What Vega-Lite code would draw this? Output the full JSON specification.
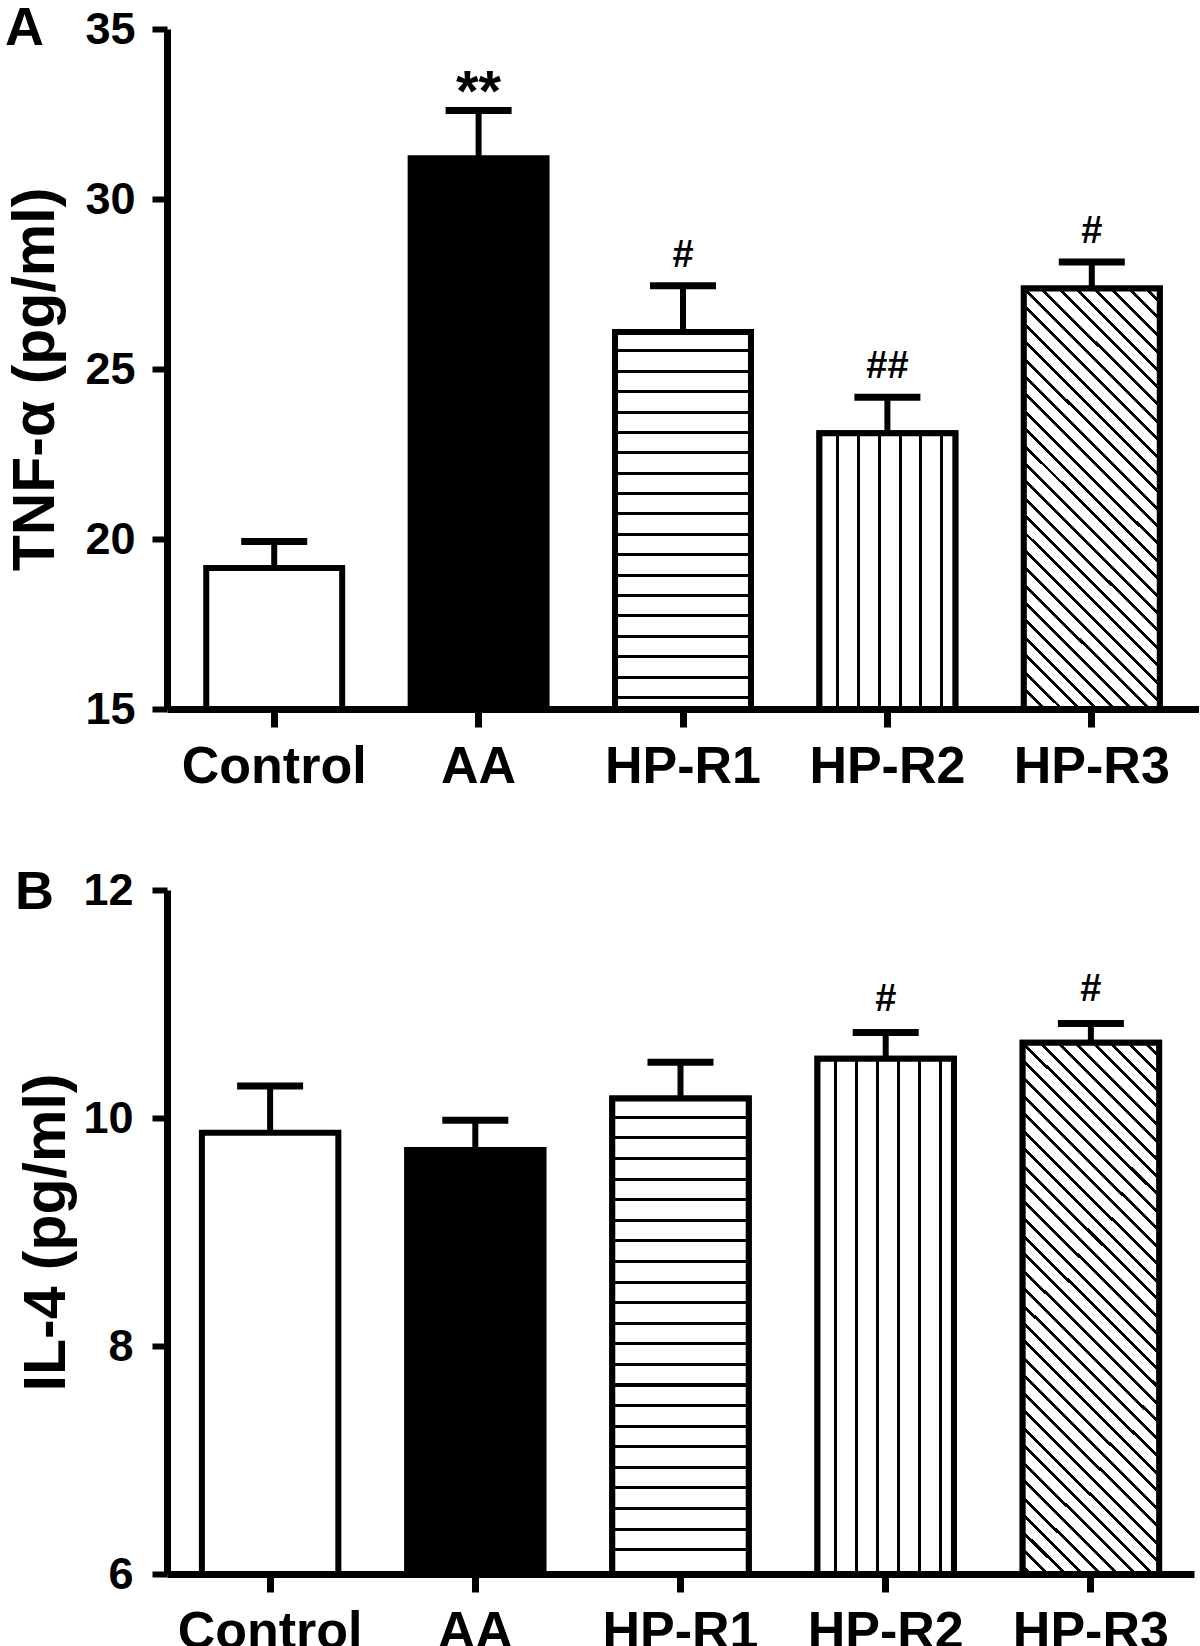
{
 "$schema": "https://vega.github.io/schema/vega-lite/v6.json",
 "padding": {"left": 5, "top": 2, "right": 0, "bottom": 0},
 "background": "white",
 "config": {
  "view": {"stroke": null},
  "font": "Liberation Sans",
  "axis": {"domainColor": "black", "tickColor": "black", "labelColor": "black", "titleColor": "black", "labelFont": "Liberation Sans", "titleFont": "Liberation Sans", "labelFontWeight": "bold", "titleFontWeight": "bold", "grid": false, "zindex": 1},
  "axisX": {"labelAngle": 0, "labelFontSize": 52, "labelPadding": 14, "labelLimit": 400, "tickSize": 18, "tickWidth": 7, "domainWidth": 7},
  "axisY": {"labelFontSize": 45, "labelPadding": 17, "tickSize": 15, "tickWidth": 6, "domainWidth": 7, "titleFontSize": 59, "titlePadding": 19},
  "title": {"font": "Liberation Sans", "fontWeight": "bold", "fontSize": 54, "color": "black", "anchor": "start", "frame": "group", "offset": 0, "baseline": "alphabetic"}
 },
 "datasets": {
  "tnf": [
   {"group": "Control", "mean": 19.15, "upper": 19.93, "sig": ""},
   {"group": "AA", "mean": 31.2, "upper": 32.6, "sig": "**"},
   {"group": "HP-R1", "mean": 26.09, "upper": 27.45, "sig": "#"},
   {"group": "HP-R2", "mean": 23.11, "upper": 24.17, "sig": "##"},
   {"group": "HP-R3", "mean": 27.37, "upper": 28.15, "sig": "#"}
  ],
  "il4": [
   {"group": "Control", "mean": 9.87, "upper": 10.28, "sig": ""},
   {"group": "AA", "mean": 9.72, "upper": 9.98, "sig": ""},
   {"group": "HP-R1", "mean": 10.17, "upper": 10.49, "sig": ""},
   {"group": "HP-R2", "mean": 10.52, "upper": 10.75, "sig": "#"},
   {"group": "HP-R3", "mean": 10.66, "upper": 10.83, "sig": "#"}
  ]
 },
 "columns": 1,
 "align": "none",
 "spacing": 74,
 "concat": [
  {
   "width": 1032, "height": 680,
   "title": {"text": "A", "dx": -162, "dy": 53},
   "data": {"name": "tnf"},
   "encoding": {"x": {"field": "group", "type": "nominal", "scale": {"domain": ["Control", "AA", "HP-R1", "HP-R2", "HP-R3"], "paddingInner": 0.335, "paddingOuter": 0.192}, "axis": {"title": null}}},
   "layer": [
    {"mark": {"type": "rule", "color": "black", "strokeWidth": 6},
     "encoding": {"y": {"field": "mean", "type": "quantitative", "scale": {"domain": [15, 35], "nice": false, "zero": false}, "axis": {"title": "TNF-α (pg/ml)", "values": [15, 20, 25, 30, 35], "titleY": 350}}, "y2": {"field": "upper"}}},
    {"mark": {"type": "tick", "orient": "horizontal", "color": "black", "size": 66, "thickness": 7, "opacity": 1},
     "encoding": {"y": {"field": "upper", "type": "quantitative", "scale": {"domain": [15, 35], "nice": false, "zero": false}, "axis": {"title": "TNF-α (pg/ml)", "values": [15, 20, 25, 30, 35], "titleY": 350}}}},
    {"mark": {"type": "bar", "stroke": "black", "strokeWidth": 6, "strokeJoin": "miter"},
     "encoding": {"y": {"field": "mean", "type": "quantitative", "scale": {"domain": [15, 35], "nice": false, "zero": false}, "axis": {"title": "TNF-α (pg/ml)", "values": [15, 20, 25, 30, 35], "titleY": 350}}, "y2": {"datum": 15},
      "fill": {"field": "group", "type": "nominal", "scale": {"domain": ["Control", "AA", "HP-R1", "HP-R2", "HP-R3"], "range": ["#ffffff", "#000000", "#ffffff", "#ffffff", "#ffffff"]}, "legend": null}}},
    {"transform": [{"filter": "datum.group === 'HP-R1'"}],
     "mark": {"type": "bar", "stroke": "black", "strokeWidth": 6, "strokeJoin": "miter",
      "fill": {"gradient": "linear", "x1": 0, "y1": 0, "x2": 0, "y2": 1, "stops": [
       {"offset": 0, "color": "#fff"},
       {"offset": 0.0464, "color": "#fff"}, {"offset": 0.0464, "color": "#000"}, {"offset": 0.0543, "color": "#000"}, {"offset": 0.0543, "color": "#fff"},
       {"offset": 0.1004, "color": "#fff"}, {"offset": 0.1004, "color": "#000"}, {"offset": 0.1084, "color": "#000"}, {"offset": 0.1084, "color": "#fff"},
       {"offset": 0.1545, "color": "#fff"}, {"offset": 0.1545, "color": "#000"}, {"offset": 0.1624, "color": "#000"}, {"offset": 0.1624, "color": "#fff"},
       {"offset": 0.2085, "color": "#fff"}, {"offset": 0.2085, "color": "#000"}, {"offset": 0.2165, "color": "#000"}, {"offset": 0.2165, "color": "#fff"},
       {"offset": 0.2626, "color": "#fff"}, {"offset": 0.2626, "color": "#000"}, {"offset": 0.2705, "color": "#000"}, {"offset": 0.2705, "color": "#fff"},
       {"offset": 0.3166, "color": "#fff"}, {"offset": 0.3166, "color": "#000"}, {"offset": 0.3246, "color": "#000"}, {"offset": 0.3246, "color": "#fff"},
       {"offset": 0.3707, "color": "#fff"}, {"offset": 0.3707, "color": "#000"}, {"offset": 0.3786, "color": "#000"}, {"offset": 0.3786, "color": "#fff"},
       {"offset": 0.4247, "color": "#fff"}, {"offset": 0.4247, "color": "#000"}, {"offset": 0.4327, "color": "#000"}, {"offset": 0.4327, "color": "#fff"},
       {"offset": 0.4788, "color": "#fff"}, {"offset": 0.4788, "color": "#000"}, {"offset": 0.4868, "color": "#000"}, {"offset": 0.4868, "color": "#fff"},
       {"offset": 0.5329, "color": "#fff"}, {"offset": 0.5329, "color": "#000"}, {"offset": 0.5408, "color": "#000"}, {"offset": 0.5408, "color": "#fff"},
       {"offset": 0.5869, "color": "#fff"}, {"offset": 0.5869, "color": "#000"}, {"offset": 0.5949, "color": "#000"}, {"offset": 0.5949, "color": "#fff"},
       {"offset": 0.6410, "color": "#fff"}, {"offset": 0.6410, "color": "#000"}, {"offset": 0.6489, "color": "#000"}, {"offset": 0.6489, "color": "#fff"},
       {"offset": 0.6950, "color": "#fff"}, {"offset": 0.6950, "color": "#000"}, {"offset": 0.7030, "color": "#000"}, {"offset": 0.7030, "color": "#fff"},
       {"offset": 0.7491, "color": "#fff"}, {"offset": 0.7491, "color": "#000"}, {"offset": 0.7570, "color": "#000"}, {"offset": 0.7570, "color": "#fff"},
       {"offset": 0.8031, "color": "#fff"}, {"offset": 0.8031, "color": "#000"}, {"offset": 0.8111, "color": "#000"}, {"offset": 0.8111, "color": "#fff"},
       {"offset": 0.8572, "color": "#fff"}, {"offset": 0.8572, "color": "#000"}, {"offset": 0.8651, "color": "#000"}, {"offset": 0.8651, "color": "#fff"},
       {"offset": 0.9112, "color": "#fff"}, {"offset": 0.9112, "color": "#000"}, {"offset": 0.9192, "color": "#000"}, {"offset": 0.9192, "color": "#fff"},
       {"offset": 0.9653, "color": "#fff"}, {"offset": 0.9653, "color": "#000"}, {"offset": 0.9732, "color": "#000"}, {"offset": 0.9732, "color": "#fff"},
       {"offset": 1, "color": "#fff"}]}},
     "encoding": {"y": {"field": "mean", "type": "quantitative", "scale": {"domain": [15, 35], "nice": false, "zero": false}, "axis": {"title": "TNF-α (pg/ml)", "values": [15, 20, 25, 30, 35], "titleY": 350}}, "y2": {"datum": 15}}},
    {"transform": [{"filter": "datum.group === 'HP-R2'"}],
     "mark": {"type": "bar", "stroke": "black", "strokeWidth": 6, "strokeJoin": "miter",
      "fill": {"gradient": "linear", "x1": 0, "y1": 0, "x2": 1, "y2": 0, "stops": [
       {"offset": 0, "color": "#fff"},
       {"offset": 0.1218, "color": "#fff"}, {"offset": 0.1218, "color": "#000"}, {"offset": 0.1439, "color": "#000"}, {"offset": 0.1439, "color": "#fff"},
       {"offset": 0.2753, "color": "#fff"}, {"offset": 0.2753, "color": "#000"}, {"offset": 0.2974, "color": "#000"}, {"offset": 0.2974, "color": "#fff"},
       {"offset": 0.4288, "color": "#fff"}, {"offset": 0.4288, "color": "#000"}, {"offset": 0.4509, "color": "#000"}, {"offset": 0.4509, "color": "#fff"},
       {"offset": 0.5823, "color": "#fff"}, {"offset": 0.5823, "color": "#000"}, {"offset": 0.6044, "color": "#000"}, {"offset": 0.6044, "color": "#fff"},
       {"offset": 0.7358, "color": "#fff"}, {"offset": 0.7358, "color": "#000"}, {"offset": 0.7579, "color": "#000"}, {"offset": 0.7579, "color": "#fff"},
       {"offset": 0.8893, "color": "#fff"}, {"offset": 0.8893, "color": "#000"}, {"offset": 0.9114, "color": "#000"}, {"offset": 0.9114, "color": "#fff"},
       {"offset": 1, "color": "#fff"}]}},
     "encoding": {"y": {"field": "mean", "type": "quantitative", "scale": {"domain": [15, 35], "nice": false, "zero": false}, "axis": {"title": "TNF-α (pg/ml)", "values": [15, 20, 25, 30, 35], "titleY": 350}}, "y2": {"datum": 15}}},
    {"transform": [{"filter": "datum.group === 'HP-R3'"}],
     "mark": {"type": "bar", "stroke": "black", "strokeWidth": 6, "strokeJoin": "miter",
      "fill": {"gradient": "linear", "x1": 0, "y1": 1, "x2": 0.3862, "y2": -0.1979, "stops": [
       {"offset": 0, "color": "#fff"},
       {"offset": 0.0023, "color": "#fff"}, {"offset": 0.0023, "color": "#000"}, {"offset": 0.0095, "color": "#000"}, {"offset": 0.0095, "color": "#fff"},
       {"offset": 0.0336, "color": "#fff"}, {"offset": 0.0336, "color": "#000"}, {"offset": 0.0408, "color": "#000"}, {"offset": 0.0408, "color": "#fff"},
       {"offset": 0.0649, "color": "#fff"}, {"offset": 0.0649, "color": "#000"}, {"offset": 0.0720, "color": "#000"}, {"offset": 0.0720, "color": "#fff"},
       {"offset": 0.0961, "color": "#fff"}, {"offset": 0.0961, "color": "#000"}, {"offset": 0.1033, "color": "#000"}, {"offset": 0.1033, "color": "#fff"},
       {"offset": 0.1274, "color": "#fff"}, {"offset": 0.1274, "color": "#000"}, {"offset": 0.1346, "color": "#000"}, {"offset": 0.1346, "color": "#fff"},
       {"offset": 0.1586, "color": "#fff"}, {"offset": 0.1586, "color": "#000"}, {"offset": 0.1658, "color": "#000"}, {"offset": 0.1658, "color": "#fff"},
       {"offset": 0.1899, "color": "#fff"}, {"offset": 0.1899, "color": "#000"}, {"offset": 0.1971, "color": "#000"}, {"offset": 0.1971, "color": "#fff"},
       {"offset": 0.2212, "color": "#fff"}, {"offset": 0.2212, "color": "#000"}, {"offset": 0.2284, "color": "#000"}, {"offset": 0.2284, "color": "#fff"},
       {"offset": 0.2524, "color": "#fff"}, {"offset": 0.2524, "color": "#000"}, {"offset": 0.2596, "color": "#000"}, {"offset": 0.2596, "color": "#fff"},
       {"offset": 0.2837, "color": "#fff"}, {"offset": 0.2837, "color": "#000"}, {"offset": 0.2909, "color": "#000"}, {"offset": 0.2909, "color": "#fff"},
       {"offset": 0.3150, "color": "#fff"}, {"offset": 0.3150, "color": "#000"}, {"offset": 0.3221, "color": "#000"}, {"offset": 0.3221, "color": "#fff"},
       {"offset": 0.3462, "color": "#fff"}, {"offset": 0.3462, "color": "#000"}, {"offset": 0.3534, "color": "#000"}, {"offset": 0.3534, "color": "#fff"},
       {"offset": 0.3775, "color": "#fff"}, {"offset": 0.3775, "color": "#000"}, {"offset": 0.3847, "color": "#000"}, {"offset": 0.3847, "color": "#fff"},
       {"offset": 0.4087, "color": "#fff"}, {"offset": 0.4087, "color": "#000"}, {"offset": 0.4159, "color": "#000"}, {"offset": 0.4159, "color": "#fff"},
       {"offset": 0.4400, "color": "#fff"}, {"offset": 0.4400, "color": "#000"}, {"offset": 0.4472, "color": "#000"}, {"offset": 0.4472, "color": "#fff"},
       {"offset": 0.4713, "color": "#fff"}, {"offset": 0.4713, "color": "#000"}, {"offset": 0.4784, "color": "#000"}, {"offset": 0.4784, "color": "#fff"},
       {"offset": 0.5025, "color": "#fff"}, {"offset": 0.5025, "color": "#000"}, {"offset": 0.5097, "color": "#000"}, {"offset": 0.5097, "color": "#fff"},
       {"offset": 0.5338, "color": "#fff"}, {"offset": 0.5338, "color": "#000"}, {"offset": 0.5410, "color": "#000"}, {"offset": 0.5410, "color": "#fff"},
       {"offset": 0.5650, "color": "#fff"}, {"offset": 0.5650, "color": "#000"}, {"offset": 0.5722, "color": "#000"}, {"offset": 0.5722, "color": "#fff"},
       {"offset": 0.5963, "color": "#fff"}, {"offset": 0.5963, "color": "#000"}, {"offset": 0.6035, "color": "#000"}, {"offset": 0.6035, "color": "#fff"},
       {"offset": 0.6276, "color": "#fff"}, {"offset": 0.6276, "color": "#000"}, {"offset": 0.6348, "color": "#000"}, {"offset": 0.6348, "color": "#fff"},
       {"offset": 0.6588, "color": "#fff"}, {"offset": 0.6588, "color": "#000"}, {"offset": 0.6660, "color": "#000"}, {"offset": 0.6660, "color": "#fff"},
       {"offset": 0.6901, "color": "#fff"}, {"offset": 0.6901, "color": "#000"}, {"offset": 0.6973, "color": "#000"}, {"offset": 0.6973, "color": "#fff"},
       {"offset": 0.7213, "color": "#fff"}, {"offset": 0.7213, "color": "#000"}, {"offset": 0.7285, "color": "#000"}, {"offset": 0.7285, "color": "#fff"},
       {"offset": 0.7526, "color": "#fff"}, {"offset": 0.7526, "color": "#000"}, {"offset": 0.7598, "color": "#000"}, {"offset": 0.7598, "color": "#fff"},
       {"offset": 0.7839, "color": "#fff"}, {"offset": 0.7839, "color": "#000"}, {"offset": 0.7911, "color": "#000"}, {"offset": 0.7911, "color": "#fff"},
       {"offset": 0.8151, "color": "#fff"}, {"offset": 0.8151, "color": "#000"}, {"offset": 0.8223, "color": "#000"}, {"offset": 0.8223, "color": "#fff"},
       {"offset": 0.8464, "color": "#fff"}, {"offset": 0.8464, "color": "#000"}, {"offset": 0.8536, "color": "#000"}, {"offset": 0.8536, "color": "#fff"},
       {"offset": 0.8777, "color": "#fff"}, {"offset": 0.8777, "color": "#000"}, {"offset": 0.8848, "color": "#000"}, {"offset": 0.8848, "color": "#fff"},
       {"offset": 0.9089, "color": "#fff"}, {"offset": 0.9089, "color": "#000"}, {"offset": 0.9161, "color": "#000"}, {"offset": 0.9161, "color": "#fff"},
       {"offset": 0.9402, "color": "#fff"}, {"offset": 0.9402, "color": "#000"}, {"offset": 0.9474, "color": "#000"}, {"offset": 0.9474, "color": "#fff"},
       {"offset": 0.9714, "color": "#fff"}, {"offset": 0.9714, "color": "#000"}, {"offset": 0.9786, "color": "#000"}, {"offset": 0.9786, "color": "#fff"},
       {"offset": 1, "color": "#fff"}]}},
     "encoding": {"y": {"field": "mean", "type": "quantitative", "scale": {"domain": [15, 35], "nice": false, "zero": false}, "axis": {"title": "TNF-α (pg/ml)", "values": [15, 20, 25, 30, 35], "titleY": 350}}, "y2": {"datum": 15}}},
    {"transform": [{"filter": "datum.sig === '**'"}],
     "mark": {"type": "text", "font": "Liberation Sans", "fontSize": 58, "fontWeight": "bold", "baseline": "alphabetic", "dy": 0, "color": "black"},
     "encoding": {"y": {"field": "upper", "type": "quantitative", "scale": {"domain": [15, 35], "nice": false, "zero": false}, "axis": {"title": "TNF-α (pg/ml)", "values": [15, 20, 25, 30, 35], "titleY": 350}}, "text": {"field": "sig"}}},
    {"transform": [{"filter": "datum.sig === '#' || datum.sig === '##'"}],
     "mark": {"type": "text", "font": "Liberation Sans", "fontSize": 38, "fontWeight": "bold", "baseline": "alphabetic", "dy": -19, "color": "black"},
     "encoding": {"y": {"field": "upper", "type": "quantitative", "scale": {"domain": [15, 35], "nice": false, "zero": false}, "axis": {"title": "TNF-α (pg/ml)", "values": [15, 20, 25, 30, 35], "titleY": 350}}, "text": {"field": "sig"}}}
   ]
  },
  {
   "width": 1027, "height": 684,
   "title": {"text": "B", "dx": -152, "dy": 56},
   "data": {"name": "il4"},
   "encoding": {"x": {"field": "group", "type": "nominal", "scale": {"domain": ["Control", "AA", "HP-R1", "HP-R2", "HP-R3"], "paddingInner": 0.335, "paddingOuter": 0.17}, "axis": {"title": null}}},
   "layer": [
    {"mark": {"type": "rule", "color": "black", "strokeWidth": 6},
     "encoding": {"y": {"field": "mean", "type": "quantitative", "scale": {"domain": [6, 12], "nice": false, "zero": false}, "axis": {"title": "IL-4 (pg/ml)", "values": [6, 8, 10, 12], "labelPadding": 19, "titlePadding": 6}}, "y2": {"field": "upper"}}},
    {"mark": {"type": "tick", "orient": "horizontal", "color": "black", "size": 66, "thickness": 7, "opacity": 1},
     "encoding": {"y": {"field": "upper", "type": "quantitative", "scale": {"domain": [6, 12], "nice": false, "zero": false}, "axis": {"title": "IL-4 (pg/ml)", "values": [6, 8, 10, 12], "labelPadding": 19, "titlePadding": 6}}}},
    {"mark": {"type": "bar", "stroke": "black", "strokeWidth": 6, "strokeJoin": "miter"},
     "encoding": {"y": {"field": "mean", "type": "quantitative", "scale": {"domain": [6, 12], "nice": false, "zero": false}, "axis": {"title": "IL-4 (pg/ml)", "values": [6, 8, 10, 12], "labelPadding": 19, "titlePadding": 6}}, "y2": {"datum": 6},
      "fill": {"field": "group", "type": "nominal", "scale": {"domain": ["Control", "AA", "HP-R1", "HP-R2", "HP-R3"], "range": ["#ffffff", "#000000", "#ffffff", "#ffffff", "#ffffff"]}, "legend": null}}},
    {"transform": [{"filter": "datum.group === 'HP-R1'"}],
     "mark": {"type": "bar", "stroke": "black", "strokeWidth": 6, "strokeJoin": "miter",
      "fill": {"gradient": "linear", "x1": 0, "y1": 0, "x2": 0, "y2": 1, "stops": [
       {"offset": 0, "color": "#fff"},
       {"offset": 0.0361, "color": "#fff"}, {"offset": 0.0361, "color": "#000"}, {"offset": 0.0424, "color": "#000"}, {"offset": 0.0424, "color": "#fff"},
       {"offset": 0.0794, "color": "#fff"}, {"offset": 0.0794, "color": "#000"}, {"offset": 0.0858, "color": "#000"}, {"offset": 0.0858, "color": "#fff"},
       {"offset": 0.1227, "color": "#fff"}, {"offset": 0.1227, "color": "#000"}, {"offset": 0.1291, "color": "#000"}, {"offset": 0.1291, "color": "#fff"},
       {"offset": 0.1661, "color": "#fff"}, {"offset": 0.1661, "color": "#000"}, {"offset": 0.1724, "color": "#000"}, {"offset": 0.1724, "color": "#fff"},
       {"offset": 0.2094, "color": "#fff"}, {"offset": 0.2094, "color": "#000"}, {"offset": 0.2157, "color": "#000"}, {"offset": 0.2157, "color": "#fff"},
       {"offset": 0.2527, "color": "#fff"}, {"offset": 0.2527, "color": "#000"}, {"offset": 0.2590, "color": "#000"}, {"offset": 0.2590, "color": "#fff"},
       {"offset": 0.2960, "color": "#fff"}, {"offset": 0.2960, "color": "#000"}, {"offset": 0.3023, "color": "#000"}, {"offset": 0.3023, "color": "#fff"},
       {"offset": 0.3393, "color": "#fff"}, {"offset": 0.3393, "color": "#000"}, {"offset": 0.3457, "color": "#000"}, {"offset": 0.3457, "color": "#fff"},
       {"offset": 0.3826, "color": "#fff"}, {"offset": 0.3826, "color": "#000"}, {"offset": 0.3890, "color": "#000"}, {"offset": 0.3890, "color": "#fff"},
       {"offset": 0.4260, "color": "#fff"}, {"offset": 0.4260, "color": "#000"}, {"offset": 0.4323, "color": "#000"}, {"offset": 0.4323, "color": "#fff"},
       {"offset": 0.4693, "color": "#fff"}, {"offset": 0.4693, "color": "#000"}, {"offset": 0.4756, "color": "#000"}, {"offset": 0.4756, "color": "#fff"},
       {"offset": 0.5126, "color": "#fff"}, {"offset": 0.5126, "color": "#000"}, {"offset": 0.5189, "color": "#000"}, {"offset": 0.5189, "color": "#fff"},
       {"offset": 0.5559, "color": "#fff"}, {"offset": 0.5559, "color": "#000"}, {"offset": 0.5623, "color": "#000"}, {"offset": 0.5623, "color": "#fff"},
       {"offset": 0.5992, "color": "#fff"}, {"offset": 0.5992, "color": "#000"}, {"offset": 0.6056, "color": "#000"}, {"offset": 0.6056, "color": "#fff"},
       {"offset": 0.6426, "color": "#fff"}, {"offset": 0.6426, "color": "#000"}, {"offset": 0.6489, "color": "#000"}, {"offset": 0.6489, "color": "#fff"},
       {"offset": 0.6859, "color": "#fff"}, {"offset": 0.6859, "color": "#000"}, {"offset": 0.6922, "color": "#000"}, {"offset": 0.6922, "color": "#fff"},
       {"offset": 0.7292, "color": "#fff"}, {"offset": 0.7292, "color": "#000"}, {"offset": 0.7355, "color": "#000"}, {"offset": 0.7355, "color": "#fff"},
       {"offset": 0.7725, "color": "#fff"}, {"offset": 0.7725, "color": "#000"}, {"offset": 0.7788, "color": "#000"}, {"offset": 0.7788, "color": "#fff"},
       {"offset": 0.8158, "color": "#fff"}, {"offset": 0.8158, "color": "#000"}, {"offset": 0.8222, "color": "#000"}, {"offset": 0.8222, "color": "#fff"},
       {"offset": 0.8592, "color": "#fff"}, {"offset": 0.8592, "color": "#000"}, {"offset": 0.8655, "color": "#000"}, {"offset": 0.8655, "color": "#fff"},
       {"offset": 0.9025, "color": "#fff"}, {"offset": 0.9025, "color": "#000"}, {"offset": 0.9088, "color": "#000"}, {"offset": 0.9088, "color": "#fff"},
       {"offset": 0.9458, "color": "#fff"}, {"offset": 0.9458, "color": "#000"}, {"offset": 0.9521, "color": "#000"}, {"offset": 0.9521, "color": "#fff"},
       {"offset": 1, "color": "#fff"}]}},
     "encoding": {"y": {"field": "mean", "type": "quantitative", "scale": {"domain": [6, 12], "nice": false, "zero": false}, "axis": {"title": "IL-4 (pg/ml)", "values": [6, 8, 10, 12], "labelPadding": 19, "titlePadding": 6}}, "y2": {"datum": 6}}},
    {"transform": [{"filter": "datum.group === 'HP-R2'"}],
     "mark": {"type": "bar", "stroke": "black", "strokeWidth": 6, "strokeJoin": "miter",
      "fill": {"gradient": "linear", "x1": 0, "y1": 0, "x2": 1, "y2": 0, "stops": [
       {"offset": 0, "color": "#fff"},
       {"offset": 0.1218, "color": "#fff"}, {"offset": 0.1218, "color": "#000"}, {"offset": 0.1439, "color": "#000"}, {"offset": 0.1439, "color": "#fff"},
       {"offset": 0.2753, "color": "#fff"}, {"offset": 0.2753, "color": "#000"}, {"offset": 0.2974, "color": "#000"}, {"offset": 0.2974, "color": "#fff"},
       {"offset": 0.4288, "color": "#fff"}, {"offset": 0.4288, "color": "#000"}, {"offset": 0.4509, "color": "#000"}, {"offset": 0.4509, "color": "#fff"},
       {"offset": 0.5823, "color": "#fff"}, {"offset": 0.5823, "color": "#000"}, {"offset": 0.6044, "color": "#000"}, {"offset": 0.6044, "color": "#fff"},
       {"offset": 0.7358, "color": "#fff"}, {"offset": 0.7358, "color": "#000"}, {"offset": 0.7579, "color": "#000"}, {"offset": 0.7579, "color": "#fff"},
       {"offset": 0.8893, "color": "#fff"}, {"offset": 0.8893, "color": "#000"}, {"offset": 0.9114, "color": "#000"}, {"offset": 0.9114, "color": "#fff"},
       {"offset": 1, "color": "#fff"}]}},
     "encoding": {"y": {"field": "mean", "type": "quantitative", "scale": {"domain": [6, 12], "nice": false, "zero": false}, "axis": {"title": "IL-4 (pg/ml)", "values": [6, 8, 10, 12], "labelPadding": 19, "titlePadding": 6}}, "y2": {"datum": 6}}},
    {"transform": [{"filter": "datum.group === 'HP-R3'"}],
     "mark": {"type": "bar", "stroke": "black", "strokeWidth": 6, "strokeJoin": "miter",
      "fill": {"gradient": "linear", "x1": 0, "y1": 1, "x2": 0.30127, "y2": -0.17859, "stops": [
       {"offset": 0, "color": "#fff"},
       {"offset": 0.0080, "color": "#fff"}, {"offset": 0.0080, "color": "#000"}, {"offset": 0.0140, "color": "#000"}, {"offset": 0.0140, "color": "#fff"},
       {"offset": 0.0342, "color": "#fff"}, {"offset": 0.0342, "color": "#000"}, {"offset": 0.0402, "color": "#000"}, {"offset": 0.0402, "color": "#fff"},
       {"offset": 0.0603, "color": "#fff"}, {"offset": 0.0603, "color": "#000"}, {"offset": 0.0664, "color": "#000"}, {"offset": 0.0664, "color": "#fff"},
       {"offset": 0.0865, "color": "#fff"}, {"offset": 0.0865, "color": "#000"}, {"offset": 0.0925, "color": "#000"}, {"offset": 0.0925, "color": "#fff"},
       {"offset": 0.1127, "color": "#fff"}, {"offset": 0.1127, "color": "#000"}, {"offset": 0.1187, "color": "#000"}, {"offset": 0.1187, "color": "#fff"},
       {"offset": 0.1389, "color": "#fff"}, {"offset": 0.1389, "color": "#000"}, {"offset": 0.1449, "color": "#000"}, {"offset": 0.1449, "color": "#fff"},
       {"offset": 0.1651, "color": "#fff"}, {"offset": 0.1651, "color": "#000"}, {"offset": 0.1711, "color": "#000"}, {"offset": 0.1711, "color": "#fff"},
       {"offset": 0.1912, "color": "#fff"}, {"offset": 0.1912, "color": "#000"}, {"offset": 0.1973, "color": "#000"}, {"offset": 0.1973, "color": "#fff"},
       {"offset": 0.2174, "color": "#fff"}, {"offset": 0.2174, "color": "#000"}, {"offset": 0.2234, "color": "#000"}, {"offset": 0.2234, "color": "#fff"},
       {"offset": 0.2436, "color": "#fff"}, {"offset": 0.2436, "color": "#000"}, {"offset": 0.2496, "color": "#000"}, {"offset": 0.2496, "color": "#fff"},
       {"offset": 0.2698, "color": "#fff"}, {"offset": 0.2698, "color": "#000"}, {"offset": 0.2758, "color": "#000"}, {"offset": 0.2758, "color": "#fff"},
       {"offset": 0.2960, "color": "#fff"}, {"offset": 0.2960, "color": "#000"}, {"offset": 0.3020, "color": "#000"}, {"offset": 0.3020, "color": "#fff"},
       {"offset": 0.3222, "color": "#fff"}, {"offset": 0.3222, "color": "#000"}, {"offset": 0.3282, "color": "#000"}, {"offset": 0.3282, "color": "#fff"},
       {"offset": 0.3483, "color": "#fff"}, {"offset": 0.3483, "color": "#000"}, {"offset": 0.3544, "color": "#000"}, {"offset": 0.3544, "color": "#fff"},
       {"offset": 0.3745, "color": "#fff"}, {"offset": 0.3745, "color": "#000"}, {"offset": 0.3805, "color": "#000"}, {"offset": 0.3805, "color": "#fff"},
       {"offset": 0.4007, "color": "#fff"}, {"offset": 0.4007, "color": "#000"}, {"offset": 0.4067, "color": "#000"}, {"offset": 0.4067, "color": "#fff"},
       {"offset": 0.4269, "color": "#fff"}, {"offset": 0.4269, "color": "#000"}, {"offset": 0.4329, "color": "#000"}, {"offset": 0.4329, "color": "#fff"},
       {"offset": 0.4531, "color": "#fff"}, {"offset": 0.4531, "color": "#000"}, {"offset": 0.4591, "color": "#000"}, {"offset": 0.4591, "color": "#fff"},
       {"offset": 0.4792, "color": "#fff"}, {"offset": 0.4792, "color": "#000"}, {"offset": 0.4853, "color": "#000"}, {"offset": 0.4853, "color": "#fff"},
       {"offset": 0.5054, "color": "#fff"}, {"offset": 0.5054, "color": "#000"}, {"offset": 0.5114, "color": "#000"}, {"offset": 0.5114, "color": "#fff"},
       {"offset": 0.5316, "color": "#fff"}, {"offset": 0.5316, "color": "#000"}, {"offset": 0.5376, "color": "#000"}, {"offset": 0.5376, "color": "#fff"},
       {"offset": 0.5578, "color": "#fff"}, {"offset": 0.5578, "color": "#000"}, {"offset": 0.5638, "color": "#000"}, {"offset": 0.5638, "color": "#fff"},
       {"offset": 0.5840, "color": "#fff"}, {"offset": 0.5840, "color": "#000"}, {"offset": 0.5900, "color": "#000"}, {"offset": 0.5900, "color": "#fff"},
       {"offset": 0.6101, "color": "#fff"}, {"offset": 0.6101, "color": "#000"}, {"offset": 0.6162, "color": "#000"}, {"offset": 0.6162, "color": "#fff"},
       {"offset": 0.6363, "color": "#fff"}, {"offset": 0.6363, "color": "#000"}, {"offset": 0.6423, "color": "#000"}, {"offset": 0.6423, "color": "#fff"},
       {"offset": 0.6625, "color": "#fff"}, {"offset": 0.6625, "color": "#000"}, {"offset": 0.6685, "color": "#000"}, {"offset": 0.6685, "color": "#fff"},
       {"offset": 0.6887, "color": "#fff"}, {"offset": 0.6887, "color": "#000"}, {"offset": 0.6947, "color": "#000"}, {"offset": 0.6947, "color": "#fff"},
       {"offset": 0.7149, "color": "#fff"}, {"offset": 0.7149, "color": "#000"}, {"offset": 0.7209, "color": "#000"}, {"offset": 0.7209, "color": "#fff"},
       {"offset": 0.7411, "color": "#fff"}, {"offset": 0.7411, "color": "#000"}, {"offset": 0.7471, "color": "#000"}, {"offset": 0.7471, "color": "#fff"},
       {"offset": 0.7672, "color": "#fff"}, {"offset": 0.7672, "color": "#000"}, {"offset": 0.7733, "color": "#000"}, {"offset": 0.7733, "color": "#fff"},
       {"offset": 0.7934, "color": "#fff"}, {"offset": 0.7934, "color": "#000"}, {"offset": 0.7994, "color": "#000"}, {"offset": 0.7994, "color": "#fff"},
       {"offset": 0.8196, "color": "#fff"}, {"offset": 0.8196, "color": "#000"}, {"offset": 0.8256, "color": "#000"}, {"offset": 0.8256, "color": "#fff"},
       {"offset": 0.8458, "color": "#fff"}, {"offset": 0.8458, "color": "#000"}, {"offset": 0.8518, "color": "#000"}, {"offset": 0.8518, "color": "#fff"},
       {"offset": 0.8720, "color": "#fff"}, {"offset": 0.8720, "color": "#000"}, {"offset": 0.8780, "color": "#000"}, {"offset": 0.8780, "color": "#fff"},
       {"offset": 0.8981, "color": "#fff"}, {"offset": 0.8981, "color": "#000"}, {"offset": 0.9042, "color": "#000"}, {"offset": 0.9042, "color": "#fff"},
       {"offset": 0.9243, "color": "#fff"}, {"offset": 0.9243, "color": "#000"}, {"offset": 0.9303, "color": "#000"}, {"offset": 0.9303, "color": "#fff"},
       {"offset": 0.9505, "color": "#fff"}, {"offset": 0.9505, "color": "#000"}, {"offset": 0.9565, "color": "#000"}, {"offset": 0.9565, "color": "#fff"},
       {"offset": 0.9767, "color": "#fff"}, {"offset": 0.9767, "color": "#000"}, {"offset": 0.9827, "color": "#000"}, {"offset": 0.9827, "color": "#fff"},
       {"offset": 1, "color": "#fff"}]}},
     "encoding": {"y": {"field": "mean", "type": "quantitative", "scale": {"domain": [6, 12], "nice": false, "zero": false}, "axis": {"title": "IL-4 (pg/ml)", "values": [6, 8, 10, 12], "labelPadding": 19, "titlePadding": 6}}, "y2": {"datum": 6}}},
    {"transform": [{"filter": "datum.sig === '#'"}],
     "mark": {"type": "text", "font": "Liberation Sans", "fontSize": 38, "fontWeight": "bold", "baseline": "alphabetic", "dy": -22, "color": "black"},
     "encoding": {"y": {"field": "upper", "type": "quantitative", "scale": {"domain": [6, 12], "nice": false, "zero": false}, "axis": {"title": "IL-4 (pg/ml)", "values": [6, 8, 10, 12], "labelPadding": 19, "titlePadding": 6}}, "text": {"field": "sig"}}}
   ]
  }
 ]
}
